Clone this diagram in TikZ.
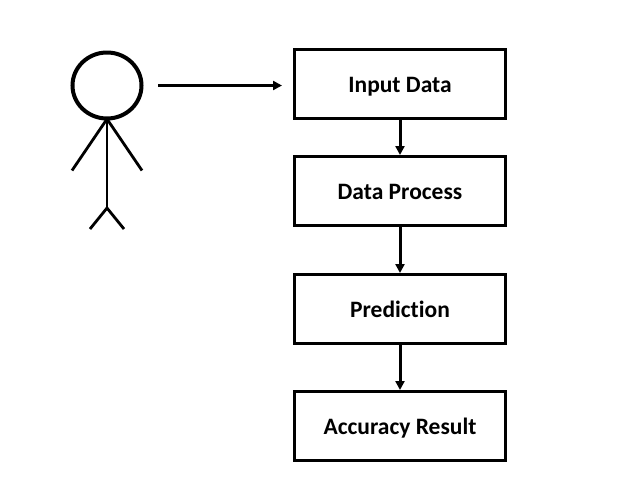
\documentclass[tikz,border=0pt]{standalone}
\usepackage{fontspec}
\setmainfont[Ligatures=CommonOff]{Carlito}
\usetikzlibrary{arrows.meta}
\begin{document}
\begin{tikzpicture}[x=1pt,y=-1pt,
  boxnode/.style={draw=black,line width=3pt,minimum width=211pt,minimum height=69pt,inner sep=0pt,text height=20pt,text depth=4pt,font=\fontsize{23.5}{28}\selectfont\bfseries,text=black},
  figure/.style={draw=black,line width=2.8pt,line cap=butt},
  conn/.style={draw=black,line width=3pt,-{Triangle[length=9pt,width=9pt]}}]
\useasboundingbox (0,0) rectangle (630,491);
\fill[white] (0,0) rectangle (630,491);
\node[boxnode] (input) at (400,84) {Input Data};
\node[boxnode] (process) at (400,191) {Data Process};
\node[boxnode] (prediction) at (400,309) {Prediction};
\node[boxnode] (result) at (400,426) {Accuracy Result};
\coordinate (start) at (158,85.5);
\coordinate (inputw) at (282,85.5);
\draw[conn] (start) -- (inputw);
\draw[conn] (input) -- (process);
\draw[conn] (process) -- (prediction);
\draw[conn] (prediction) -- (result);
\draw[figure,line width=4pt] (107,85.5) ellipse (34.5pt and 33pt);
\draw[figure] (107,119) -- (107,208);
\draw[figure] (107,119) -- (72,170.5);
\draw[figure] (107,119) -- (142,170.5);
\draw[figure] (107,208) -- (90,229);
\draw[figure] (107,208) -- (124,229);
\end{tikzpicture}
\end{document}
